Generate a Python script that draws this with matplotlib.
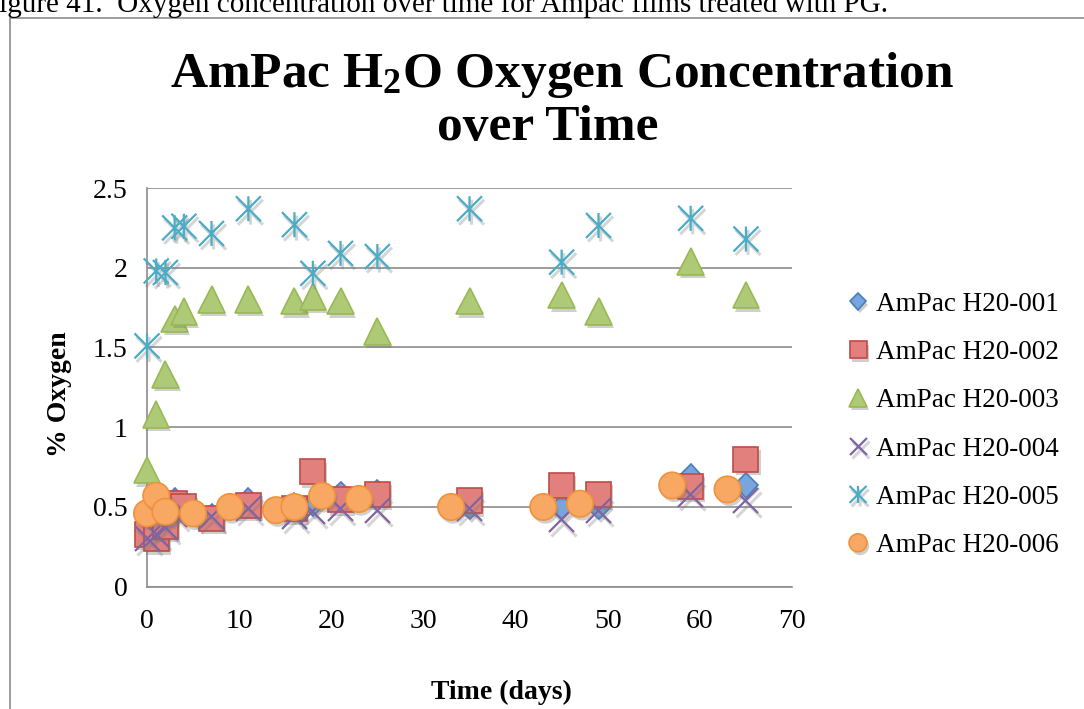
import matplotlib
matplotlib.use("Agg")
import matplotlib.pyplot as plt
import matplotlib.patheffects as pe
from matplotlib.path import Path
from matplotlib.patches import Rectangle

# ---- data -------------------------------------------------------------
days = [0, 1, 2, 3, 4, 7, 11, 16, 18, 21, 25, 35, 45, 49, 59, 65]
h001 = [0.35, 0.33, 0.40, 0.54, 0.50, 0.44, 0.54, 0.51, 0.52, 0.58, 0.59, 0.50, 0.50, 0.50, 0.69, 0.635]
h002 = [0.33, 0.30, 0.38, 0.52, 0.50, 0.43, 0.51, 0.49, 0.72, 0.545, 0.58, 0.54, 0.635, 0.58, 0.63, 0.80]
h003 = [0.73, 1.08, 1.33, 1.68, 1.725, 1.80, 1.80, 1.79, 1.82, 1.79, 1.60, 1.79, 1.83, 1.725, 2.04, 1.83]
h004 = [0.30, 0.33, 0.37, 0.45, 0.47, 0.44, 0.49, 0.44, 0.47, 0.49, 0.48, 0.49, 0.42, 0.48, 0.58, 0.54]
h005 = [1.51, 1.98, 1.97, 2.25, 2.26, 2.215, 2.37, 2.27, 1.965, 2.09, 2.07, 2.37, 2.035, 2.265, 2.31, 2.18]
days006 = [0, 1, 2, 5, 9, 14, 16, 19, 23, 33, 43, 47, 57, 63]
h006 = [0.46, 0.57, 0.47, 0.46, 0.50, 0.48, 0.50, 0.57, 0.55, 0.50, 0.50, 0.52, 0.635, 0.61]

labels = ["AmPac H20-001", "AmPac H20-002", "AmPac H20-003",
          "AmPac H20-004", "AmPac H20-005", "AmPac H20-006"]
x_ticks = [0, 10, 20, 30, 40, 50, 60, 70]
y_ticks = [0, 0.5, 1, 1.5, 2, 2.5]
y_tick_labels = ["0", "0.5", "1", "1.5", "2", "2.5"]

# ---- style ------------------------------------------------------------
plt.rcParams["font.family"] = ["Liberation Serif", "DejaVu Serif"]
plt.rcParams["mathtext.fontset"] = "custom"
plt.rcParams["mathtext.rm"] = "Liberation Serif:bold"
plt.rcParams["mathtext.default"] = "rm"

# asterisk marker: an X crossed by a vertical bar
asterisk = Path([(-1, -1), (1, 1), (-1, 1), (1, -1), (0, -1), (0, 1)],
                [Path.MOVETO, Path.LINETO, Path.MOVETO, Path.LINETO,
                 Path.MOVETO, Path.LINETO])

shadow = [pe.withSimplePatchShadow(offset=(1.5, -2.5), shadow_rgbFace="#777777", alpha=0.35)]
line_shadow = [pe.SimpleLineShadow(offset=(1.5, -2.5), shadow_color="#777777", alpha=0.3, linewidth=2.2), pe.Normal()]

series = [
    (days, h001, dict(marker="D", markersize=12.5, markerfacecolor="#78A5DD",
                      markeredgecolor="#4A7EBB", markeredgewidth=1.2), shadow),
    (days, h002, dict(marker="s", markersize=18, markerfacecolor="#E2807E",
                      markeredgecolor="#BE4B48", markeredgewidth=1.2), shadow),
    (days, h003, dict(marker="^", markersize=19, markerfacecolor="#AECA77",
                      markeredgecolor="#98B954", markeredgewidth=1.2), shadow),
    (days, h004, dict(marker="x", markersize=18, markeredgecolor="#8064A2",
                      markeredgewidth=1.6), line_shadow),
    (days, h005, dict(marker=asterisk, markersize=18, markeredgecolor="#4BACC6",
                      markeredgewidth=1.6), line_shadow),
    (days006, h006, dict(marker="o", markersize=19, markerfacecolor="#F8A863",
                         markeredgecolor="#F0923A", markeredgewidth=1.2), shadow),
]

fig = plt.figure(figsize=(10.84, 7.09), dpi=100)
ax = fig.add_axes([147 / 1084, 1 - 586.7 / 709, (792 - 147) / 1084, (586.7 - 188) / 709])

handles = []
for i, (xs, ys, kw, effects) in enumerate(series):
    (ln,) = ax.plot(xs, ys, linestyle="none", zorder=3 + i, label=labels[i], **kw)
    ln.set_path_effects(effects)
    ln.set_clip_on(False)
    handles.append(ln)

ax.set_xlim(0, 70)
ax.set_ylim(0, 2.5)
ax.set_xticks(x_ticks)
ax.set_yticks(y_ticks)
ax.set_yticklabels(y_tick_labels)
ax.tick_params(length=0, labelsize=20, colors="black")
ax.tick_params(axis="x", pad=16)
ax.tick_params(axis="y", pad=14)
ax.grid(axis="y", color="#8C8C8C", linewidth=1.2)
ax.set_axisbelow(True)
for side in ("top", "right"):
    ax.spines[side].set_visible(False)
for side in ("left", "bottom"):
    ax.spines[side].set_color("#8C8C8C")
    ax.spines[side].set_linewidth(1.2)

fig.text(60 / 1084, 1 - 394 / 709, "% Oxygen", fontsize=20, fontweight="bold",
         rotation=90, ha="center", va="center")
fig.text(501 / 1084, 1 - 692 / 709, "Time (days)", fontsize=20, fontweight="bold",
         ha="center", va="center")

fig.text(562 / 1084, 1 - 75 / 709, r"AmPac H$_{2}$O Oxygen Concentration",
         fontsize=37, fontweight="bold", ha="center", va="center")
fig.text(548 / 1084, 1 - 128 / 709, "over Time",
         fontsize=37, fontweight="bold", ha="center", va="center")

# legend
leg = fig.legend(handles=handles, labels=labels, loc="center left",
                 bbox_to_anchor=(835 / 1084, 1 - 425 / 709), frameon=False,
                 fontsize=19.5, numpoints=1, markerscale=0.68, labelspacing=0.86,
                 handlelength=0.9, handletextpad=0.2, borderaxespad=0)

# outer chart frame and caption
fig.add_artist(Rectangle((10 / 1084, -0.1), 1.2, 1 - 18 / 709 + 0.1,
                         transform=fig.transFigure, fill=False,
                         edgecolor="#8C8C8C", linewidth=1.2))
fig.text(888 / 1084, 1 - 12 / 709,
         "Figure 41.  Oxygen concentration over time for Ampac films treated with PG.",
         fontsize=21, ha="right", va="baseline")

fig.savefig("out.png", dpi=100)
